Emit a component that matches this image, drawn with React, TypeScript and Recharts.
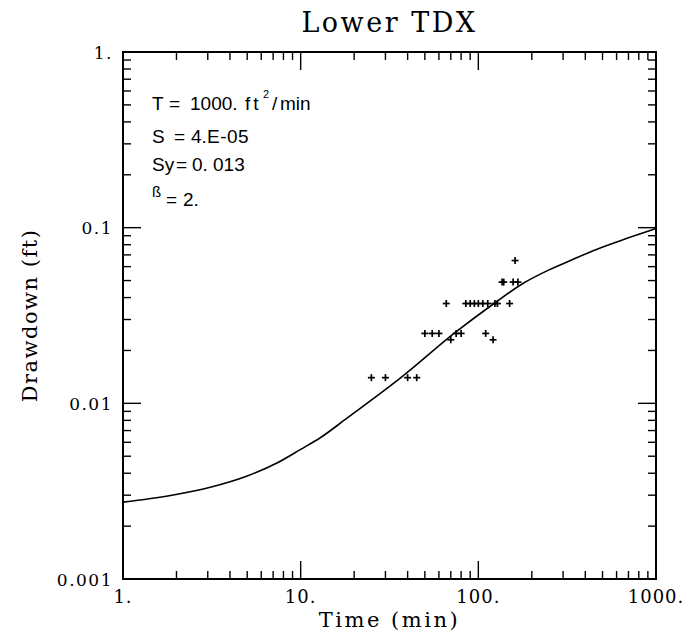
import React from 'react';
import { ComposedChart, Line, Scatter, XAxis, YAxis, ReferenceArea } from 'recharts';

// fitted type curve (time in min, drawdown in ft)
const CURVE_TIME = [1, 1.85, 3.1, 5, 7.4, 10, 12.9, 18.3, 36.5, 74.5, 122, 180, 250, 335, 462, 700, 1000];
const CURVE_DRAWDOWN = [0.00274, 0.00299, 0.00333, 0.00386, 0.00459, 0.00547, 0.00637, 0.00826, 0.01395, 0.0254, 0.0369, 0.0484, 0.0575, 0.0655, 0.0752, 0.0875, 0.099];

// observed drawdowns
const OBS_TIME = [25, 30, 40, 45, 50, 55, 60, 75, 80, 110, 70, 121, 66, 85, 90, 95, 100, 106, 113, 124, 128, 150, 136, 139, 157, 167, 161];
const OBS_DRAWDOWN = [
  0.014, 0.014, 0.014, 0.014,
  0.025, 0.025, 0.025, 0.025, 0.025, 0.025,
  0.023, 0.023,
  0.037, 0.037, 0.037, 0.037, 0.037, 0.037, 0.037, 0.037, 0.037, 0.037,
  0.049, 0.049, 0.049, 0.049,
  0.065,
];

const X_TICKS = [1, 2, 3, 4, 5, 6, 7, 8, 9, 10, 20, 30, 40, 50, 60, 70, 80, 90, 100, 200, 300, 400, 500, 600, 700, 800, 900, 1000];
const Y_TICKS = [
  0.001, 0.002, 0.003, 0.004, 0.005, 0.006, 0.007, 0.008, 0.009,
  0.01, 0.02, 0.03, 0.04, 0.05, 0.06, 0.07, 0.08, 0.09,
  0.1, 0.2, 0.3, 0.4, 0.5, 0.6, 0.7, 0.8, 0.9, 1,
];
const X_LABELS: Record<string, string> = { '1': '1.', '10': '10.', '100': '100.', '1000': '1000.' };
const Y_LABELS: Record<string, string> = { '1': '1.', '0.1': '0.1', '0.01': '0.01', '0.001': '0.001' };

const curveData = CURVE_TIME.map((t, i) => ({ t, s: CURVE_DRAWDOWN[i] }));
const obsData = OBS_TIME.map((t, i) => ({ t, s: OBS_DRAWDOWN[i] }));

const W = 683;
const H = 628;
const PLOT = { left: 115, top: 44, right: 648, bottom: 571 };
const SERIF = '"DejaVu Serif", serif';
const SANS = '"Liberation Sans", Arial, sans-serif';

const XTick = (props: any) => {
  const { x, y, payload } = props;
  const label = X_LABELS[String(payload.value)];
  const len = label ? 18 : 8;
  return (
    <g>
      <line x1={x} y1={y} x2={x} y2={y - len} stroke="#000" strokeWidth={1.4} />
      <line x1={x} y1={PLOT.top} x2={x} y2={PLOT.top + len} stroke="#000" strokeWidth={1.4} />
      {label && (
        <text x={x} y={y + 24} textAnchor="middle" fontFamily={SERIF} fontSize={18} letterSpacing={1} fill="#000">
          {label}
        </text>
      )}
    </g>
  );
};

const YTick = (props: any) => {
  const { x, y, payload } = props;
  const label = Y_LABELS[String(payload.value)];
  const len = label ? 18 : 8;
  return (
    <g>
      <line x1={x} y1={y} x2={x + len} y2={y} stroke="#000" strokeWidth={1.4} />
      <line x1={PLOT.right} y1={y} x2={PLOT.right - len} y2={y} stroke="#000" strokeWidth={1.4} />
      {label && (
        <text x={x - 10} y={y + 6.5} textAnchor="end" fontFamily={SERIF} fontSize={17} letterSpacing={1.5} fill="#000">
          {label}
        </text>
      )}
    </g>
  );
};

const Cross = (props: any) => {
  const { cx, cy } = props;
  const r = 3.5;
  return (
    <g stroke="#000" strokeWidth={1.7}>
      <line x1={cx - r} y1={cy} x2={cx + r} y2={cy} />
      <line x1={cx} y1={cy - r} x2={cx} y2={cy + r} />
    </g>
  );
};

export default function App() {
  return (
    <div style={{ position: 'relative', width: W, height: H }}>
      <ComposedChart
        width={W}
        height={H}
        margin={{ top: PLOT.top, right: W - PLOT.right, bottom: 0, left: 0 }}
      >
        <XAxis
          dataKey="t"
          type="number"
          scale="log"
          domain={[1, 1000]}
          allowDataOverflow
          ticks={X_TICKS}
          interval={0}
          height={H - PLOT.bottom}
          tickSize={0}
          tickMargin={0}
          axisLine={false}
          tickLine={false}
          tick={<XTick />}
        />
        <YAxis
          dataKey="s"
          type="number"
          scale="log"
          domain={[0.001, 1]}
          allowDataOverflow
          ticks={Y_TICKS}
          interval={0}
          width={PLOT.left}
          tickSize={0}
          tickMargin={0}
          axisLine={false}
          tickLine={false}
          tick={<YTick />}
        />
        <ReferenceArea x1={1} x2={1000} y1={0.001} y2={1} fill="none" stroke="#000" strokeWidth={2} ifOverflow="visible" />
        <Line
          data={curveData}
          dataKey="s"
          type="monotone"
          stroke="#000"
          strokeWidth={1.6}
          dot={false}
          isAnimationActive={false}
        />
        <Scatter data={obsData} dataKey="s" shape={<Cross />} isAnimationActive={false} />
      </ComposedChart>

      <svg width={W} height={H} style={{ position: 'absolute', left: 0, top: 0, pointerEvents: 'none', overflow: 'visible' }}>
        <text x={(PLOT.left + PLOT.right) / 2} y={24} textAnchor="middle" fontFamily={SERIF} fontSize={27} letterSpacing={2.5} fill="#000">
          Lower TDX
        </text>
        <text x={(PLOT.left + PLOT.right) / 2} y={619} textAnchor="middle" fontFamily={SERIF} fontSize={21} letterSpacing={2.5} fill="#000">
          Time (min)
        </text>
        <text
          x={29}
          y={(PLOT.top + PLOT.bottom) / 2}
          textAnchor="middle"
          transform={`rotate(-90 29 ${(PLOT.top + PLOT.bottom) / 2})`}
          fontFamily={SERIF}
          fontSize={21}
          letterSpacing={1.5}
          fill="#000"
        >
          Drawdown (ft)
        </text>

        <g fontFamily={SANS} fontSize={19} fill="#000">
          <text x={144} y={102}>T</text>
          <text x={161} y={102}>=</text>
          <text x={182} y={102}>1000.</text>
          <text x={237} y={102} letterSpacing={3}>ft</text>
          <text x={255} y={90} fontSize={11}>2</text>
          <text x={264} y={102}>/</text>
          <text x={272} y={102}>min</text>

          <text x={144} y={135}>S</text>
          <text x={166} y={135}>=</text>
          <text x={183} y={135}>4.</text>
          <text x={199} y={135} letterSpacing={0.5}>E-05</text>

          <text x={144} y={163}>Sy</text>
          <text x={168} y={163}>=</text>
          <text x={184} y={163}>0.</text>
          <text x={205} y={163}>013</text>

          <text x={144} y={189} fontSize={15}>ß</text>
          <text x={158} y={198}>=</text>
          <text x={175} y={198}>2.</text>
        </g>
      </svg>
    </div>
  );
}
